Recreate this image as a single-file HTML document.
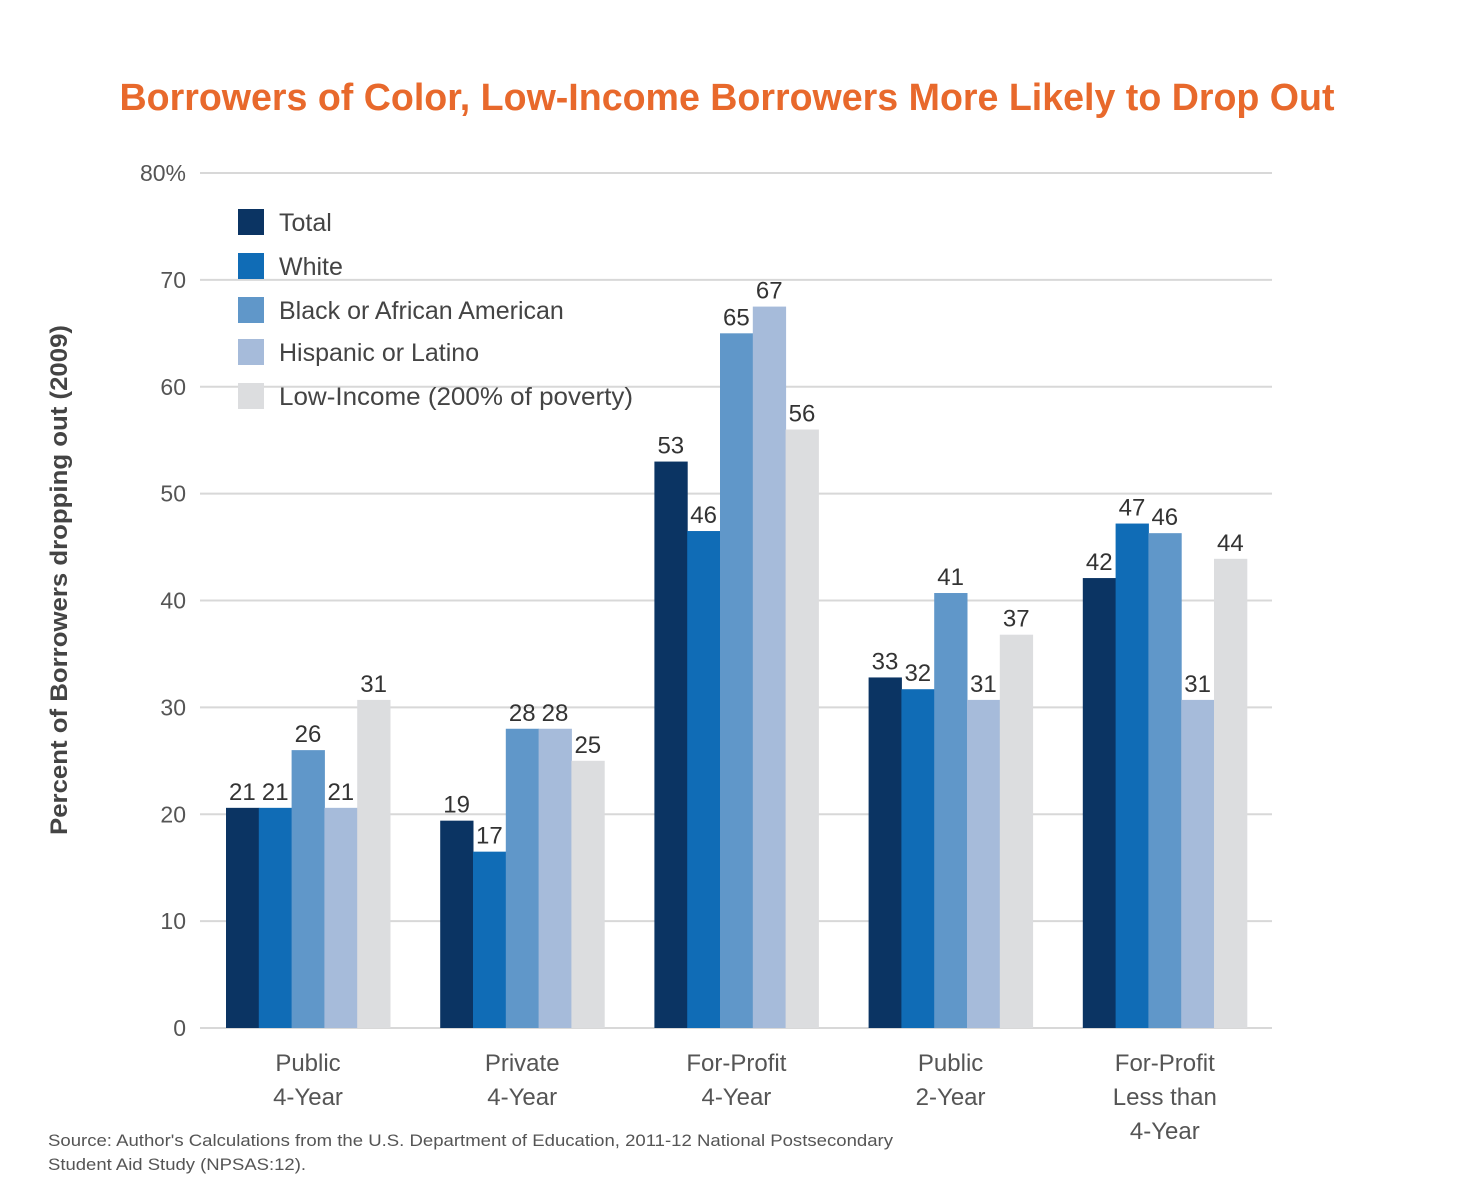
<!DOCTYPE html>
<html><head><meta charset="utf-8"><style>
body{margin:0;background:#fff;}
svg{display:block;font-family:"Liberation Sans",Arial,sans-serif;}
</style></head><body>
<svg id="chart" width="1484" height="1193" viewBox="0 0 1484 1193">
<text x="727" y="110" text-anchor="middle" font-size="38" font-weight="bold" fill="#e8692c" textLength="1215" lengthAdjust="spacingAndGlyphs">Borrowers of Color, Low-Income Borrowers More Likely to Drop Out</text>
<g id="grid"></g><g id="bars"></g><g id="labels"></g>
<text transform="translate(67,580) rotate(-90)" text-anchor="middle" font-size="24" font-weight="bold" fill="#444" textLength="510" lengthAdjust="spacingAndGlyphs">Percent of Borrowers dropping out (2009)</text>
<g id="legend"></g>
<text x="48" y="1146" font-size="17" fill="#555" textLength="845" lengthAdjust="spacingAndGlyphs">Source: Author's Calculations from the U.S. Department of Education, 2011-12 National Postsecondary</text>
<text x="48" y="1170" font-size="17" fill="#555" textLength="258" lengthAdjust="spacingAndGlyphs">Student Aid Study (NPSAS:12).</text>
</svg>
<script>
const categories=[["Public","4-Year"],["Private","4-Year"],["For-Profit","4-Year"],["Public","2-Year"],["For-Profit","Less than","4-Year"]];
const seriesNames=["Total","White","Black or African American","Hispanic or Latino","Low-Income (200% of poverty)"];
const total=[20.6,19.4,53,32.8,42.1];
const white=[20.6,16.5,46.5,31.7,47.2];
const black=[26,28,65,40.7,46.3];
const hispanic=[20.6,28,67.5,30.7,30.7];
const lowIncome=[30.7,25,56,36.8,43.9];
const printedTotal=[21,19,53,33,42];
const printedWhite=[21,17,46,32,47];
const printedBlack=[26,28,65,41,46];
const printedHispanic=[21,28,67,31,31];
const printedLow=[31,25,56,37,44];
const yTicks=[0,10,20,30,40,50,60,70,80];
const colors=["#0b3463","#106cb6","#6097c9","#a6bbda","#dcdddf"];
const series=[total,white,black,hispanic,lowIncome];
const printed=[printedTotal,printedWhite,printedBlack,printedHispanic,printedLow];
const NS="http://www.w3.org/2000/svg";
const y=v=>1028-v*(855/80);
const groupX=i=>226+i*214.2;
const barW=32.8;
function mk(tag,attrs,parent){const e=document.createElementNS(NS,tag);for(const k in attrs)e.setAttribute(k,attrs[k]);parent.appendChild(e);return e;}
const grid=document.getElementById('grid'),bars=document.getElementById('bars'),labels=document.getElementById('labels'),legend=document.getElementById('legend');
yTicks.forEach(t=>{
 const l=mk('line',{x1:200,x2:1272,y1:y(t),y2:y(t),stroke:"#d8d8d8","stroke-width":2},grid);
 
 
 const tx=mk('text',{x:186,y:y(t)+8,"text-anchor":"end","font-size":23,fill:"#555"},grid);
 tx.textContent=t===80?"80%":String(t);
 
 
});
categories.forEach((c,i)=>{
 series.forEach((s,j)=>{
  const x=groupX(i)+j*barW;
  const r=mk('rect',{x:x,y:y(s[i]),width:barW+0.5,height:y(0)-y(s[i]),fill:colors[j]},bars);
  
  
  const t=mk('text',{x:x+barW/2,y:y(s[i])-8,"text-anchor":"middle","font-size":24,fill:"#333"},labels);
  t.textContent=printed[j][i];
  
  
 });
 c.forEach((line,k)=>{
  const t=mk('text',{x:groupX(i)+barW*2.5,y:1071+k*34,"text-anchor":"middle","font-size":24,fill:"#555"},labels);
  t.textContent=line;
  
  
 });
});
const legY=[222,266,310,352,396];
seriesNames.forEach((n,j)=>{
 const r=mk('rect',{x:238,y:legY[j]-13,width:26,height:26,fill:colors[j]},legend);
 
 
 const t=mk('text',{x:279,y:legY[j]+9,"font-size":25,fill:"#444"},legend);
 t.textContent=n;
 if(j===4){t.setAttribute('textLength','354');t.setAttribute('lengthAdjust','spacingAndGlyphs');}
 
 
});
</script>
</body></html>
